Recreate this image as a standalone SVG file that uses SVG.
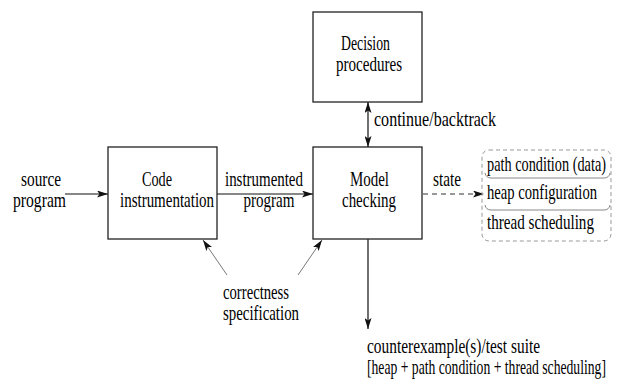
<svg xmlns="http://www.w3.org/2000/svg" width="620" height="381" viewBox="0 0 620 381">
<defs>
<style>
text{font-family:"Liberation Serif","Times New Roman",serif;font-size:20px;fill:#000}
.box{fill:#fff;stroke:#222;stroke-width:1.3}
.ln{fill:none;stroke:#111;stroke-width:1.2}
.gl{fill:none;stroke:#777;stroke-width:1}
.dash{fill:none;stroke:#333;stroke-width:1.2;stroke-dasharray:5,4}
.sbox{fill:none;stroke:#999;stroke-width:1;stroke-dasharray:4,3}
.div{fill:none;stroke:#888;stroke-width:1}
</style>
<marker id="ah" viewBox="0 0 11 7" refX="11" refY="3.5" markerWidth="11" markerHeight="7" markerUnits="userSpaceOnUse" orient="auto-start-reverse">
<path d="M0,0 L11,3.5 L0,7 L2.5,3.5 z" fill="#111"/>
</marker>
</defs>
<g id="connectors">
<line class="ln" x1="65" y1="194" x2="108" y2="194" marker-end="url(#ah)"/>
<line class="ln" x1="217" y1="194" x2="313" y2="194" marker-end="url(#ah)"/>
<line class="ln" x1="368" y1="102" x2="368" y2="147" marker-start="url(#ah)" marker-end="url(#ah)"/>
<line class="ln" x1="368" y1="239" x2="368" y2="329" marker-end="url(#ah)"/>
<line class="dash" x1="423" y1="194" x2="484" y2="194" marker-end="url(#ah)"/>
<line class="gl" x1="227" y1="275" x2="203" y2="240" marker-end="url(#ah)"/>
<line class="gl" x1="298" y1="275" x2="322" y2="240" marker-end="url(#ah)"/>
<text transform="translate(374,126) scale(0.72,1)" textLength="169.4" lengthAdjust="spacingAndGlyphs">continue/backtrack</text>
<text transform="translate(21,186) scale(0.72,1)" textLength="55.6" lengthAdjust="spacingAndGlyphs">source</text>
<text transform="translate(13,207) scale(0.72,1)" textLength="73.6" lengthAdjust="spacingAndGlyphs">program</text>
<text transform="translate(225,186) scale(0.72,1)" textLength="108.3" lengthAdjust="spacingAndGlyphs">instrumented</text>
<text transform="translate(243.5,207) scale(0.72,1)" textLength="70.8" lengthAdjust="spacingAndGlyphs">program</text>
<text transform="translate(433,186) scale(0.72,1)" textLength="38.9" lengthAdjust="spacingAndGlyphs">state</text>
<text transform="translate(223,299) scale(0.72,1)" textLength="91.7" lengthAdjust="spacingAndGlyphs">correctness</text>
<text transform="translate(223,320) scale(0.72,1)" textLength="105.6" lengthAdjust="spacingAndGlyphs">specification</text>
<text transform="translate(367,353) scale(0.72,1)" textLength="240.3" lengthAdjust="spacingAndGlyphs">counterexample(s)/test suite</text>
<text transform="translate(367,374) scale(0.72,1)" textLength="331.9" lengthAdjust="spacingAndGlyphs">[heap + path condition + thread scheduling]</text>
</g>
<g id="decision">
<rect class="box" x="313" y="12" width="109" height="90"/>
<text transform="translate(341,50) scale(0.72,1)" textLength="68" lengthAdjust="spacingAndGlyphs">Decision</text>
<text transform="translate(336,71) scale(0.72,1)" textLength="91.7" lengthAdjust="spacingAndGlyphs">procedures</text>
</g>
<g id="code">
<rect class="box" x="108" y="147" width="109" height="92"/>
<text transform="translate(142,186) scale(0.72,1)" textLength="41.7" lengthAdjust="spacingAndGlyphs">Code</text>
<text transform="translate(120,207) scale(0.72,1)" textLength="130.6" lengthAdjust="spacingAndGlyphs">instrumentation</text>
</g>
<g id="model">
<rect class="box" x="313" y="147" width="109" height="92"/>
<text transform="translate(350,186) scale(0.72,1)" textLength="54.2" lengthAdjust="spacingAndGlyphs">Model</text>
<text transform="translate(342,207) scale(0.72,1)" textLength="75" lengthAdjust="spacingAndGlyphs">checking</text>
</g>
<g id="state">
<rect class="sbox" x="482" y="150" width="129" height="91" rx="7"/>
<path class="div" d="M485,173 Q486,178 491,178 L604,178 Q609,178 610,173"/>
<path class="div" d="M485,205 Q486,210 491,210 L604,210 Q609,210 610,205"/>
<text transform="translate(487,171) scale(0.72,1)" textLength="165.3" lengthAdjust="spacingAndGlyphs">path condition (data)</text>
<text transform="translate(487,199) scale(0.72,1)" textLength="152.8" lengthAdjust="spacingAndGlyphs">heap configuration</text>
<text transform="translate(487,229) scale(0.72,1)" textLength="148.6" lengthAdjust="spacingAndGlyphs">thread scheduling</text>
</g>
</svg>
